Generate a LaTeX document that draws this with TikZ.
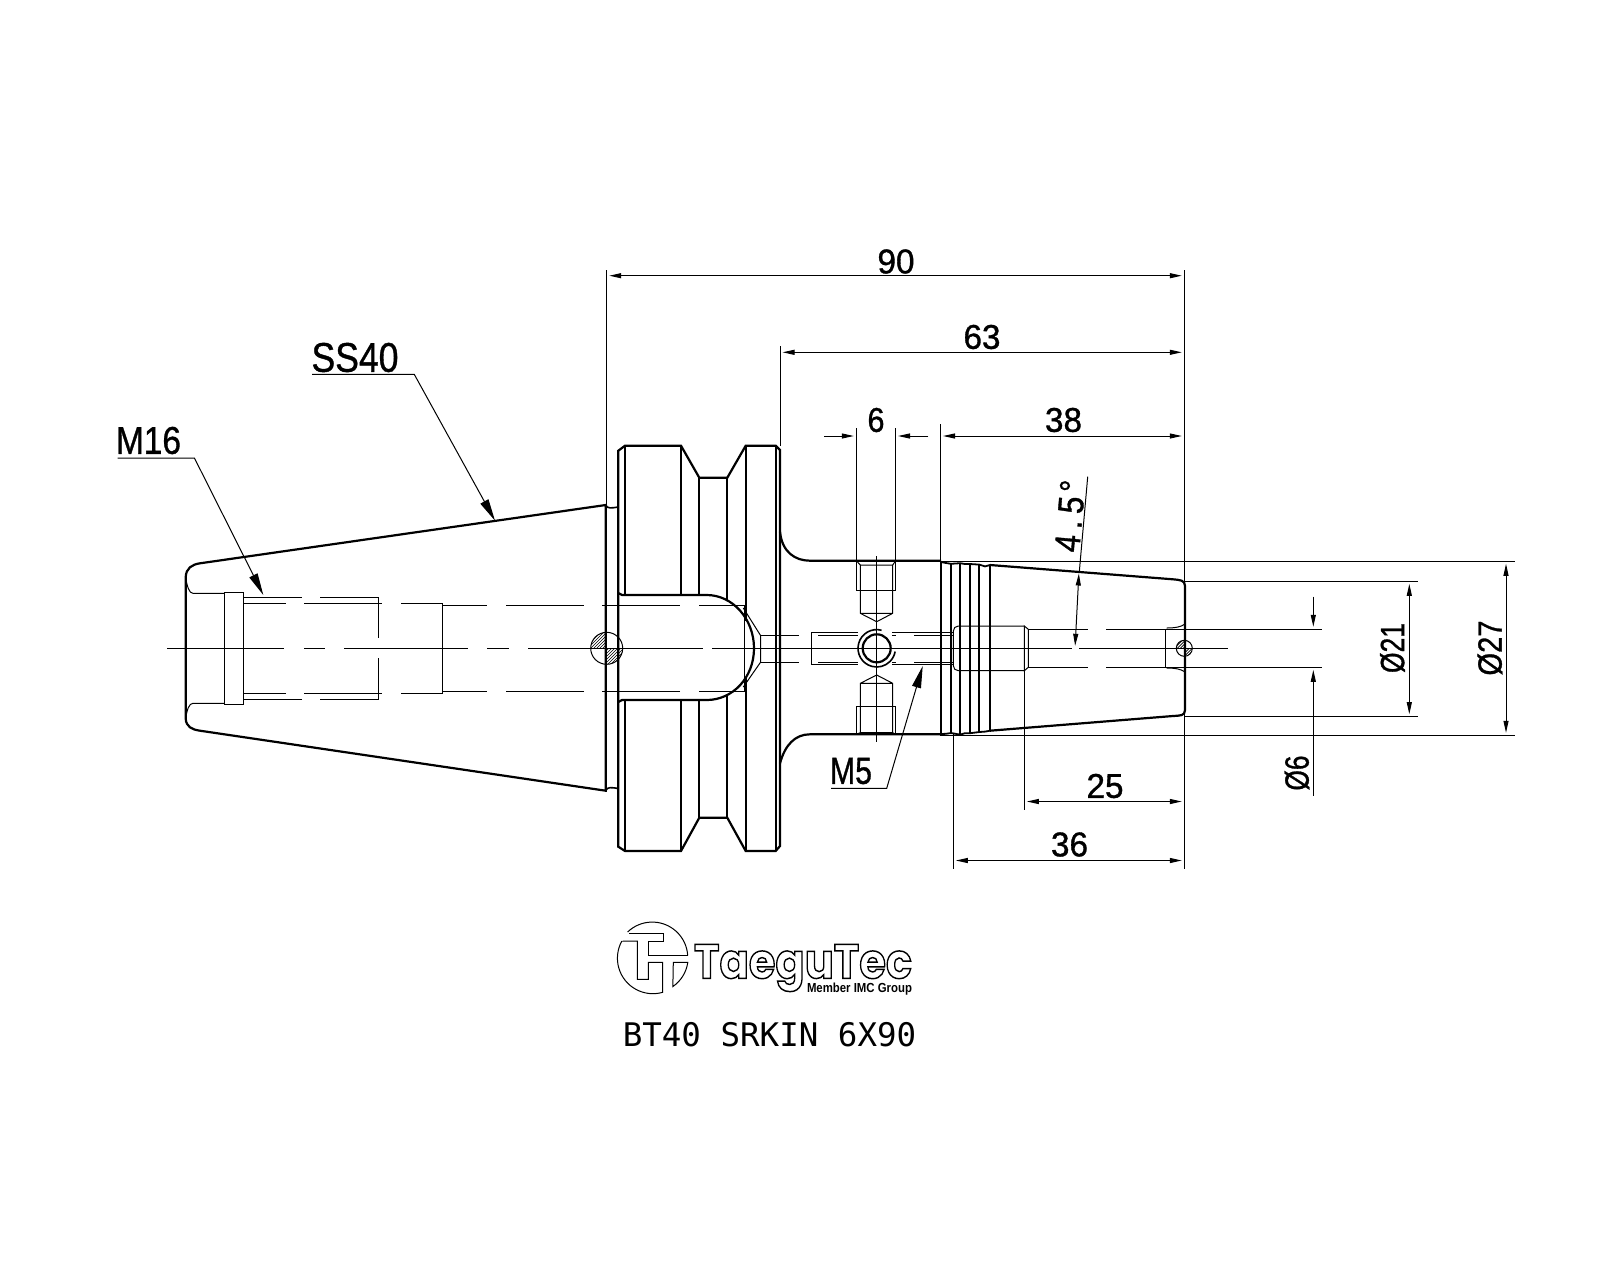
\documentclass[tikz,border=0pt]{standalone}
\usepackage{fontspec}
\usepackage{graphicx}
\setmainfont{Liberation Sans}
\newfontfamily\logofont{Poppins}
\newfontfamily\monofont{DejaVu Sans Mono}
\usetikzlibrary{arrows.meta}
\newcommand{\fitlabel}[3]{\resizebox{#1pt}{#2pt}{\special{pdf:code 2 Tr 0.1 w}#3\special{pdf:code 0 Tr}}}
\newcommand{\hatchdot}[3]{%
  \begin{scope}
    \clip (#1,#2) -- (#1-#3,#2) -- (#1-#3,#2-#3) -- (#1,#2-#3) -- (#1,#2) -- (#1+#3,#2) -- (#1+#3,#2+#3) -- (#1,#2+#3) -- cycle;
    \clip (#1,#2) circle[radius=#3 pt];
    \foreach \d in {-34,-31,...,34} \draw[hatch] (#1+\d-#3,#2+#3) -- (#1+\d+#3,#2-#3);
  \end{scope}
  \draw[fine] (#1,#2) circle[radius=#3 pt];}
\tikzset{
  obj/.style={line width=2.2pt,line join=miter},
  fine/.style={line width=1pt},
  hatch/.style={line width=0.6pt},
  dimarrow/.style={fine,{Triangle[length=12pt,width=5pt]}-{Triangle[length=12pt,width=5pt]},shorten <=2.5pt,shorten >=2.5pt},
  onearrow/.style={fine,-{Triangle[length=12pt,width=5pt]},shorten >=2.5pt},
  leader/.style={fine,-{Triangle[length=22pt,width=9pt]}},
  lab/.style={inner sep=0pt,outer sep=0pt,anchor=center}
}
\begin{document}
\begin{tikzpicture}[x=1pt,y=-1pt]
\useasboundingbox (0,0) rectangle (1600,1280);
\fill[white] (0,0) rectangle (1600,1280);

% ---- centre line
\draw[fine] (167,648.3)--(284,648.3) (304,648.3)--(325,648.3) (344,648.3)--(468,648.3) (487,648.3)--(509,648.3) (528,648.3)--(703,648.3) (712,648.3)--(1072,648.3) (1079,648.3)--(1228,648.3);

% ---- shank cone
\draw[obj] (605.7,505)--(200,563.3) .. controls (192,564.5) and (186,568) .. (185.7,577.3)--(185.7,718.3) .. controls (186,727) and (192,729.5) .. (200,730.7)--(605.7,790.7)--cycle;
\draw[obj,line width=1.6pt] (605.7,505) .. controls (607,509) and (612,508) .. (618.3,507);
\draw[obj,line width=1.6pt] (605.7,790.7) .. controls (607,786.5) and (612,787.5) .. (618.3,788.5);
\draw[fine] (185.7,577.3) .. controls (187,586) and (189,593.3) .. (193,593.3)--(224.3,593.3);
\draw[fine] (185.7,718) .. controls (187,710) and (189,703.3) .. (193,703.3)--(224.3,703.3);
\draw[fine] (224.3,592.3) rectangle (243.7,704.3);
\draw[fine] (243.7,597.3)--(302,597.3) (320,597.3)--(378.7,597.3)--(378.7,638) (378.7,658)--(378.7,699.3)--(320,699.3) (302,699.3)--(243.7,699.3);
\draw[fine] (243.7,603.3)--(286,603.3) (304,603.3)--(381.7,603.3) (401,603.3)--(442.3,603.3)--(442.3,693.3)--(401,693.3) (381.7,693.3)--(304,693.3) (286,693.3)--(243.7,693.3);
\draw[fine] (442.3,605.7)--(486.7,605.7) (506,605.7)--(584,605.7) (602,605.7)--(680,605.7) (699,605.7)--(744,605.7)--(744,691.5)--(699,691.5) (680,691.5)--(602,691.5) (584,691.5)--(506,691.5) (486.7,691.5)--(442.3,691.5);
\hatchdot{606.7}{648.3}{16}

% ---- flange
\draw[obj] (618.3,450.7)--(625,445.7)--(681,445.7)--(699.3,477.7)--(727.3,477.7)--(745.7,445.7)--(775.7,445.7)--(780,450)--(780,846)--(775.7,851)--(745.7,851)--(727.3,817.7)--(699.3,817.7)--(681,851)--(625,851)--(618.3,846.7)--cycle;
\draw[obj] (625,445.7)--(625,595) (681,445.7)--(681,595) (699.3,477.7)--(699.3,595) (727.3,477.7)--(727.3,600) (745.7,445.7)--(745.7,621) (775.7,445.7)--(775.7,851);
\draw[obj] (625,700)--(625,851) (681,700)--(681,851) (699.3,700)--(699.3,817.7) (727.3,696)--(727.3,817.7) (745.7,677)--(745.7,851);
\draw[obj] (618.3,593)--(622,595)--(706.7,595) .. controls (732.7,595) and (754,619) .. (754,648.3) .. controls (754,677.6) and (732.7,700) .. (706.7,700)--(622,700)--(618.3,702);
% ---- chamfer behind flange
\draw[fine] (743.3,608)--(760.7,635.7)--(760.7,662)--(743.3,687);
\draw[fine] (760.7,635.7)--(799,635.7) (760.7,662)--(799,662);

% ---- neck
\draw[obj] (780,531.7) .. controls (782,552) and (795,560.7) .. (810,560.7)--(941,560.7);
\draw[obj] (780,763.3) .. controls (785,745) and (795,734.3) .. (810,734.3)--(941,734.3);

% ---- cross hole and screws
\draw[fine] (858,632.3)--(811.7,632.3)--(811.7,664.3)--(858,664.3) (892,632.3)--(953.3,632.3) (892,664.3)--(953.3,664.3);
\draw[fine] (818,635.7)--(858,635.7) (818,662.3)--(858,662.3) (892,635.7)--(896,635.7) (914,635.7)--(953.3,635.7) (892,662.3)--(896,662.3) (914,662.3)--(953.3,662.3);
\draw[obj] (876.7,648.3) circle[radius=14pt];
\draw[line width=1.6pt] (876.7,648.3) ++(75:18.7pt) arc[start angle=75,end angle=350,radius=18.7pt];
\draw[fine] (876.7,556)--(876.7,741.7);
\draw[fine] (856.3,560.7)--(856.3,590.3)--(895.7,590.3)--(895.7,560.7);
\draw[fine] (856.3,560.7)--(860.3,565)--(892.7,565)--(895.7,560.7);
\draw[fine] (860.3,565)--(860.3,613.3)--(876.7,621.7)--(892.7,613.3)--(892.7,565) (860.3,613.3)--(892.7,613.3);
\draw[fine] (856.3,734.3)--(856.3,706)--(895.7,706)--(895.7,734.3);
\draw[fine] (856.3,734.3)--(860.3,732.7)--(892.7,732.7)--(895.7,734.3);
\draw[fine] (860.3,732.7)--(860.3,683.3)--(876.7,675)--(892.7,683.3)--(892.7,732.7) (860.3,683.3)--(892.7,683.3);

% ---- taper nose with rings
\draw[obj,line width=1.8pt] (941,562)--(946,563)--(951,563.8)--(960,563.2)--(965,564)--(970,564)--(979.3,564.6)--(985,566.4)--(990,565);
\draw[obj,line width=1.8pt] (941,734)--(946,733.8)--(951,733)--(960,734.6)--(965,733.2)--(970,733.2)--(979.3,732)--(985,731.6)--(990,730.7);
\draw[obj] (941,561)--(941,734.5) (951,563)--(951,734) (960,563)--(960,734) (970,564)--(970,733) (979.3,564)--(979.3,732) (990,565)--(990,731);
\draw[obj] (990,565)--(1173,579.3) .. controls (1180,580) and (1185,580) .. (1185,586)--(1185,710) .. controls (1185,716) and (1180,715.5) .. (1173,716)--(990,730.7);
\draw[fine,rounded corners=5pt] (1024.3,626)--(953.3,626)--(953.3,670.7)--(1024.3,670.7);
\draw[fine] (1024.3,626)--(1028.3,629.3)--(1028.3,667.3)--(1024.3,670.7)--cycle;
\draw[fine] (1028.3,629.3)--(1087.7,629.3) (1106,629.3)--(1321.7,629.3);
\draw[fine] (1028.3,667.3)--(1087.7,667.3) (1106,667.3)--(1321.7,667.3);
\draw[fine] (1165.7,629.3)--(1165.7,667.3);
\draw[fine] (1166.7,628) .. controls (1175,628) and (1181,627) .. (1185,624);
\draw[fine] (1166.7,668) .. controls (1175,668) and (1181,669) .. (1185,672);
\hatchdot{1184.3}{648.3}{8}

% ---- extension lines
\draw[fine] (606.7,270)--(606.7,505);
\draw[fine] (1184.3,270)--(1184.3,869);
\draw[fine] (780,346)--(780,446);
\draw[fine] (856.3,428)--(856.3,560.7) (895.5,428)--(895.5,560.7);
\draw[fine] (940.5,424)--(940.5,561);
\draw[fine] (1024.3,670.7)--(1024.3,810);
\draw[fine] (953.3,734)--(953.3,869);
\draw[fine] (940,561.3)--(1515,561.3);
\draw[fine] (940,735.3)--(1515,735.3);
\draw[fine] (1185,581.3)--(1417.7,581.3);
\draw[fine] (1185,716.7)--(1417.7,716.7);
\draw[fine] (1087.7,476.7)--(1079.3,571.7);

% ---- dimension lines
\coordinate (d90a) at (606.7,275.7); \coordinate (d90b) at (1184.3,275.7);
\coordinate (d63a) at (780,352.3); \coordinate (d63b) at (1184.3,352.3);
\coordinate (d38a) at (940.5,436); \coordinate (d38b) at (1184.3,436);
\coordinate (d6a) at (856.3,436); \coordinate (d6al) at (824,436);
\coordinate (d6b) at (895.5,436); \coordinate (d6bl) at (928.3,436);
\coordinate (d25a) at (1024.3,801.5); \coordinate (d25b) at (1184.3,801.5);
\coordinate (d36a) at (953.3,860.5); \coordinate (d36b) at (1184.3,860.5);
\coordinate (d21a) at (1409.3,581.3); \coordinate (d21b) at (1409.3,716.7);
\coordinate (d27a) at (1506,561.3); \coordinate (d27b) at (1506,735.3);
\coordinate (dangA) at (1079,571); \coordinate (dangB) at (1075,648.3);
\coordinate (dO6ta) at (1313.3,596.7); \coordinate (dO6tb) at (1313.3,629.3);
\coordinate (dO6ba) at (1313.3,795.7); \coordinate (dO6bb) at (1313.3,667.3);
\draw[dimarrow] (d90a)--(d90b);
\draw[dimarrow] (d63a)--(d63b);
\draw[dimarrow] (d38a)--(d38b);
\draw[onearrow] (d6al)--(d6a);
\draw[onearrow] (d6bl)--(d6b);
\draw[dimarrow] (d25a)--(d25b);
\draw[dimarrow] (d36a)--(d36b);
\draw[dimarrow] (d21a)--(d21b);
\draw[dimarrow] (d27a)--(d27b);
\draw[dimarrow] (dangA)--(dangB);
\draw[onearrow] (dO6ta)--(dO6tb);
\draw[onearrow] (dO6ba)--(dO6bb);

% ---- labels
\node[lab] (t90) at (896,261.5) {\fitlabel{37}{24}{90}};
\node[lab] (t63) at (982,337) {\fitlabel{37}{24}{63}};
\node[lab] (t38) at (1063.5,420) {\fitlabel{37}{24}{38}};
\node[lab] (t6) at (876,420) {\fitlabel{17}{24}{6}};
\node[lab] (t25) at (1105,786) {\fitlabel{37}{24}{25}};
\node[lab] (t36) at (1069.5,844.5) {\fitlabel{37}{24}{36}};
\node[lab,rotate=90] (tO21) at (1392.5,648) {\fitlabel{50}{24}{Ø21}};
\node[lab,rotate=90] (tO27) at (1490,648) {\fitlabel{55}{24}{Ø27}};
\node[lab,rotate=90] (tO6) at (1297,773) {\fitlabel{35}{24}{Ø6}};
\node[lab,rotate=85] (tang) at (1070,516) {\fitlabel{72}{25}{4\kern0.2em.\kern0.2em5\kern0.12em°}};

% ---- leaders
\node[lab] (tM16) at (148.5,440.5) {\fitlabel{65}{27}{M16}};
\node[lab] (tSS40) at (355,357.5) {\fitlabel{87}{29}{SS40}};
\node[lab] (tM5) at (851,771) {\fitlabel{42}{26}{M5}};
\coordinate (m16s) at (117.6,458); \coordinate (m16k) at (194.4,458); \coordinate (m16e) at (263.3,595);
\coordinate (ss40s) at (312,374.4); \coordinate (ss40k) at (414.3,374.4); \coordinate (ss40e) at (495,520.7);
\coordinate (m5s) at (831,788.3); \coordinate (m5k) at (886.7,788.3); \coordinate (m5e) at (922.7,666);
\draw[leader] (m16s)--(m16k)--(m16e);
\draw[leader] (ss40s)--(ss40k)--(ss40e);
\draw[leader] (m5s)--(m5k)--(m5e);

% ---- logo
\draw[fine] (687.7,955.7)--(648.3,955.7)--(648.3,941)--(663.3,941)--(663.3,933.3)--(629.3,933.3);
\draw[fine] (687.7,955.7) arc[start angle=3,end angle=134,radius=35.5pt];
\draw[fine] (622.7,941)--(637.3,941)--(637.3,979.3)--(648.3,979.3)--(648.3,962.3)--(662.7,962.3)--(662.7,992.3) arc[start angle=286,end angle=151,radius=35.5pt];
\draw[fine] (673.3,962.3)--(687.8,962.3) arc[start angle=-8,end angle=-55.3,radius=35.5pt]--cycle;
\node[lab,anchor=base west] (tlogo) at (694,978.3) {\resizebox{218pt}{34pt}{\logofont\bfseries\special{pdf:code 1 Tr 0.3 w}TaeguTec\special{pdf:code 0 Tr}}};
\node[lab,anchor=base east] (tmember) at (912,992) {\resizebox{105pt}{9.5pt}{\bfseries Member IMC Group}};
\node[lab] (ttitle) at (769.5,1034.5) {\fontsize{32.5}{32.5}\selectfont\monofont BT40 SRKIN 6X90};
\end{tikzpicture}
\end{document}
